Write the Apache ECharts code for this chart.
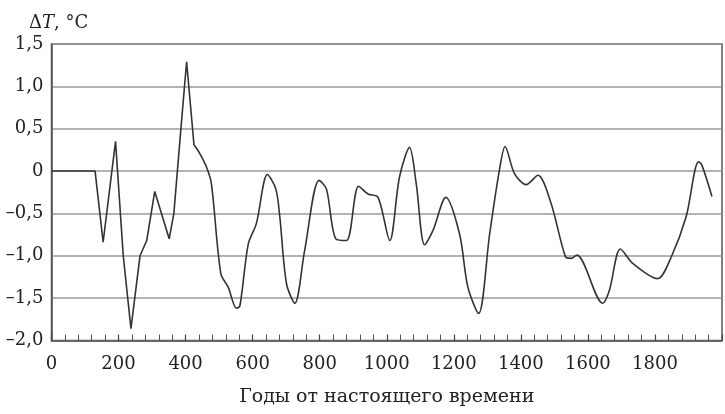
<!DOCTYPE html>
<html>
<head>
<meta charset="utf-8">
<script src="https://cdn.jsdelivr.net/npm/echarts@6/dist/echarts.min.js"></script>
<style>
html,body{margin:0;padding:0;background:#fff;}
#c{width:725px;height:414px;}
</style>
</head>
<body>
<div id="c"></div>
<script>
// Years before present (x) and temperature anomaly ΔT, °C (y)
var years = [0, 130, 154, 191, 214, 237, 264, 284, 308, 351, 365, 383, 403, 425, 442, 462, 477, 505, 527, 552, 562, 587, 611, 644, 669, 681, 701, 726, 755, 798, 820, 848, 880, 916, 944, 974, 1009, 1038, 1068, 1088, 1113, 1138, 1176, 1217, 1242, 1274, 1307, 1336, 1353, 1381, 1416, 1451, 1490, 1533, 1550, 1567, 1644, 1664, 1697, 1734, 1808, 1848, 1893, 1930, 1940, 1970];
var deltaT = [0, 0, -0.84, 0.35, -1.0, -1.86, -1.0, -0.82, -0.24, -0.80, -0.50, 0.36, 1.29, 0.31, 0.21, 0.05, -0.15, -1.21, -1.37, -1.62, -1.59, -0.86, -0.62, -0.04, -0.21, -0.54, -1.33, -1.56, -0.94, -0.11, -0.21, -0.80, -0.82, -0.18, -0.27, -0.31, -0.82, -0.07, 0.28, -0.15, -0.87, -0.70, -0.31, -0.74, -1.37, -1.68, -0.74, 0.01, 0.29, -0.03, -0.16, -0.05, -0.38, -1.01, -1.03, -0.99, -1.56, -1.41, -0.92, -1.09, -1.27, -1.02, -0.54, 0.11, 0.07, -0.30];
var xTicks = [0, 200, 400, 600, 800, 1000, 1200, 1400, 1600, 1800];
var yTicks = [-2.0, -1.5, -1.0, -0.5, 0, 0.5, 1.0, 1.5];
// the early, jagged part of the record (drawn without smoothing) ends at this year
var jaggedEndYear = 425;

var points = years.map(function (y, i) { return [y, deltaT[i]]; });
var jagged = points.filter(function (p) { return p[0] <= jaggedEndYear; });
var smoothPart = points.filter(function (p) { return p[0] >= jaggedEndYear; });
var font = '"DejaVu Serif", "Liberation Serif", serif';
var fs = 18;

var chart = echarts.init(document.getElementById('c'));
chart.setOption({
  animation: false,
  backgroundColor: '#fff',
  grid: { left: 51.5, right: 2, top: 44, bottom: 73.5, show: true, borderColor: '#555', borderWidth: 1.5, backgroundColor: 'transparent' },
  title: {
    text: '{d|Δ}{t|T}{d|, °C}',
    left: 24, top: 9,
    textStyle: { fontWeight: 'normal', rich: {
      d: { fontFamily: font, fontSize: fs, color: '#222', fontWeight: 'normal' },
      t: { fontFamily: font, fontSize: fs, color: '#222', fontStyle: 'italic', fontWeight: 'normal' }
    } }
  },
  xAxis: {
    type: 'value', min: 0, max: 2000, interval: 200,
    name: 'Годы от настоящего времени', nameLocation: 'middle', nameGap: 47,
    nameTextStyle: { fontFamily: font, fontSize: 19, color: '#222' },
    axisLine: { show: true, onZero: false, lineStyle: { color: '#555', width: 1.5 } },
    axisTick: { show: true, inside: true, length: 6, lineStyle: { color: '#444', width: 1.2 } },
    minorTick: { show: true, splitNumber: 5, length: 6, lineStyle: { color: '#555', width: 1 } },
    splitLine: { show: false },
    axisLabel: {
      fontFamily: font, fontSize: fs, color: '#222', margin: 15,
      formatter: function (v) { return xTicks.indexOf(v) >= 0 ? String(v) : ''; }
    }
  },
  yAxis: {
    type: 'value', min: -2.0, max: 1.5, interval: 0.5,
    axisLine: { show: true, onZero: false, lineStyle: { color: '#555', width: 1.5 } },
    axisTick: { show: false },
    splitLine: { show: true, lineStyle: { color: '#9a9a9a', width: 1.5 } },
    axisLabel: {
      fontFamily: font, fontSize: fs, color: '#222', margin: 8, padding: [3, 0, 0, 0],
      formatter: function (v) {
        var r = Math.round(v * 10) / 10;
        if (yTicks.indexOf(r) < 0) return '';
        if (r === 0) return '0';
        return (r < 0 ? '\u2013' : '') + Math.abs(r).toFixed(1).replace('.', ',');
      }
    }
  },
  series: [{
    type: 'line', data: jagged, showSymbol: false, smooth: false,
    lineStyle: { color: '#333', width: 1.6 }
  }, {
    type: 'line', data: smoothPart, showSymbol: false, smooth: 0.3,
    lineStyle: { color: '#333', width: 1.6 }
  }]
});
</script>
</body>
</html>
